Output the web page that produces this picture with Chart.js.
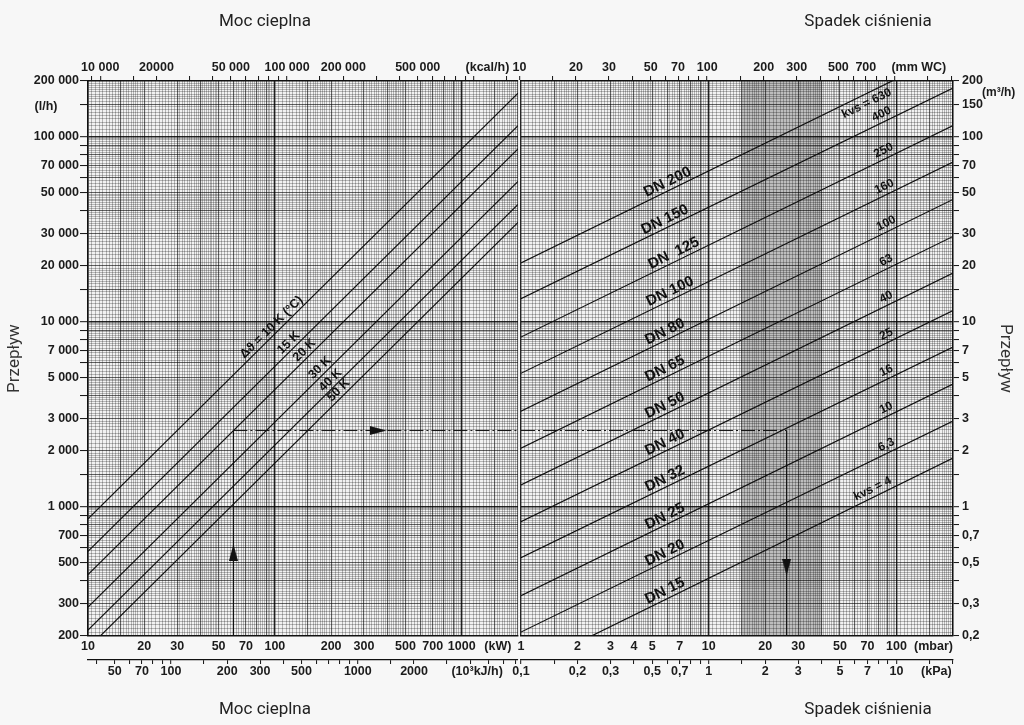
<!DOCTYPE html>
<html lang="pl">
<head>
<meta charset="utf-8">
<title>Nomogram – moc cieplna / spadek ciśnienia</title>
<script src="https://cdn.jsdelivr.net/npm/chart.js@4.4.1/dist/chart.umd.min.js"></script>
<style>
  html, body { margin: 0; padding: 0; background: #f7f7f7; }
  #wrap { position: relative; width: 1024px; height: 725px; overflow: hidden; }
  .panel { position: absolute; top: 0; height: 725px; width: 524px; }
  #left { left: 0; }
  #right { left: 500px; }
</style>
</head>
<body>
<div id="wrap">
  <div class="panel" id="left"><canvas id="heatChart"></canvas></div>
  <div class="panel" id="right"><canvas id="dropChart"></canvas></div>
</div>
<script>
// ---- values ----
const deltaT = [10, 15, 20, 30, 40, 50];                       // K
const deltaTLabels = ['Δϑ = 10 K (°C)', '15 K', '20 K', '30 K', '40 K', '50 K'];
const powerEnds = [10, 2000];                                   // kW
const flowAtLowPower = [860, 573, 430, 287, 215, 172];           // l/h at 10 kW
const flowAtHighPower = [172000, 114700, 86000, 57300, 43000, 34400]; // l/h at 2000 kW

const valveSizes = ['DN 15', 'DN 20', 'DN 25', 'DN 32', 'DN 40', 'DN 50', 'DN 65', 'DN 80', 'DN 100', 'DN  125', 'DN 150', 'DN 200'];
const kvsValues = [4, 6.3, 10, 16, 25, 40, 63, 100, 160, 250, 400, 630];
const kvsLabels = ['kvs = 4', '6,3', '10', '16', '25', '40', '63', '100', '160', '250', '400', 'kvs = 630'];
const dropEnds = [1, 200];                                      // mbar
const flowAtLowDrop = [0.13, 0.21, 0.33, 0.53, 0.83, 1.31, 2.07, 3.28, 5.26, 8.26, 13.3, 20.8];   // m3/h at 1 mbar
const flowAtHighDrop = [1.83, 2.9, 4.6, 7.3, 11.5, 18.3, 28.9, 45.8, 73, 115, 183, 290];       // m3/h at 200 mbar

// worked example drawn with arrows
const examplePower = 60;      // kW
const exampleFlow = 2580;     // l/h
const exampleDrop = 26;       // mbar
const arrowUpFlow = 565;      // l/h
const arrowRightPower = 357;  // kW
const arrowDownFlow = 0.47;   // m3/h

// ---- tick labels ----
const flowTicks = [200, 300, 500, 700, 1000, 2000, 3000, 5000, 7000, 10000, 20000, 30000, 50000, 70000, 100000, 200000];
const flowTickLabels = ['200', '300', '500', '700', '1 000', '2 000', '3 000', '5 000', '7 000', '10 000', '20 000', '30 000', '50 000', '70 000', '100 000', '200 000'];
const flowM3Ticks = [0.2, 0.3, 0.5, 0.7, 1, 2, 3, 5, 7, 10, 20, 30, 50, 70, 100, 150, 200];
const flowM3TickLabels = ['0,2', '0,3', '0,5', '0,7', '1', '2', '3', '5', '7', '10', '20', '30', '50', '70', '100', '150', '200'];
const powerTicks = [10, 20, 30, 50, 70, 100, 200, 300, 500, 700, 1000];
const kcalTicks = [10000, 20000, 50000, 100000, 200000, 500000];
const kcalTickLabels = ['10 000', '20000', '50 000', '100 000', '200 000', '500 000'];
const kjTicks = [50, 70, 100, 200, 300, 500, 1000, 2000];
const mbarTicks = [1, 2, 3, 4, 5, 7, 10, 20, 30, 50, 70, 100];
const kpaTicks = [0.1, 0.2, 0.3, 0.5, 0.7, 1, 2, 3, 5, 7, 10];
const kpaTickLabels = ['0,1', '0,2', '0,3', '0,5', '0,7', '1', '2', '3', '5', '7', '10'];
const mmwcTicks = [10, 20, 30, 50, 70, 100, 200, 300, 500, 700];

// unit conversions of the secondary axes
const KCAL_PER_KW = 860, KJ_PER_KW = 3.6, MMWC_PER_MBAR = 10.197, KPA_PER_MBAR = 0.1;

// where the line captions sit (value along the line)
const deltaTLabelAt = [102, 126, 153, 185, 211, 233];
const valveLabelAt = [6.1, 6.1, 6.1, 6.1, 6.1, 6.1, 6.1, 6.1, 6.5, 6.8, 6.1, 6.3];
const kvsLabelAt = [78, 92, 92, 92, 92, 92, 92, 92, 90, 89, 87, 66];

// graph-paper look: semi transparent so crossings don't break the darker lines
const GRID = {
  decade: { color: 'rgba(0,0,0,0.85)', width: 1.4 },
  main: { color: 'rgba(0,0,0,0.6)', width: 1.1 },
  fine: { color: 'rgba(0,0,0,0.25)', width: 1 }
};
const TICK_FONT = { family: '"Liberation Sans", Arial, sans-serif', size: 12.5, weight: 'bold' };
const TITLE_FONT = { family: 'Roboto, sans-serif', size: 17 };

function fineGrid(min, max) {
  const out = [];
  const bands = [[100, 200, 5], [200, 500, 10], [500, 1000, 20]];
  for (let n = Math.floor(Math.log10(min) + 1e-9); Math.pow(10, n) <= max * 1.0001; n++) {
    bands.forEach(([a, b, s]) => {
      for (let j = a; j < b; j += s) {
        const v = +((j / 100) * Math.pow(10, n)).toPrecision(8);
        if (v >= min * 0.9999 && v <= max * 1.0001) out.push(v);
      }
    });
  }
  return out;
}

function mainMarks(min, max) {
  const out = [];
  const mult = [1, 1.5, 2, 3, 4, 5, 6, 7, 8, 9];
  for (let n = Math.floor(Math.log10(min) + 1e-9); Math.pow(10, n) <= max * 1.0001; n++) {
    mult.forEach(m => {
      const v = +(m * Math.pow(10, n)).toPrecision(8);
      if (v >= min * 0.9999 && v <= max * 1.0001) out.push(v);
    });
  }
  return out;
}

function kind(v) {
  const n = Math.floor(Math.log10(v) + 1e-9);
  const m = Math.round(v / Math.pow(10, n) * 1000) / 1000;
  if (m === 1) return 'decade';
  if (Number.isInteger(m) || m === 1.5) return 'main';
  return 'fine';
}

const same = (a, b) => Math.abs(a / b - 1) < 1e-6;

function logAxis(cfg) {
  const labelValues = cfg.ticks.slice();
  const labelTexts = (cfg.labels || cfg.ticks.map(String)).slice();
  const units = [];
  if (cfg.unitAt) { labelValues.push(cfg.unitAt); labelTexts.push(cfg.unit); units.push(cfg.unitAt); }
  const base = cfg.dense ? fineGrid(cfg.min, cfg.max) : mainMarks(cfg.min, cfg.max);
  const all = [];
  base.concat(labelValues).forEach(v => { if (!all.some(w => same(v, w))) all.push(v); });
  all.sort((a, b) => a - b);

  const isUnit = v => units.some(u => same(u, v));
  const labelOf = v => { const i = labelValues.findIndex(l => same(l, v)); return i < 0 ? '' : labelTexts[i]; };
  const styleOf = v => (isUnit(v) ? null : GRID[kind(v)]);
  const markOf = v => (isUnit(v) || kind(v) === 'fine' ? 'rgba(0,0,0,0)' : '#111');

  const axis = {
    type: 'logarithmic',
    axis: cfg.axis,
    position: cfg.position,
    min: cfg.min,
    max: cfg.max,
    bounds: 'data',
    weight: cfg.weight || 0,
    afterBuildTicks: scale => { scale.ticks = all.map(v => ({ value: v })); },
    afterFit: scale => {
      if (scale.isHorizontal()) { scale.height = cfg.size; scale.paddingLeft = 0; scale.paddingRight = 0; }
      else { scale.width = cfg.size; scale.paddingTop = 0; scale.paddingBottom = 0; }
    },
    border: { display: true, color: '#111', width: cfg.border || 1.5 },
    grid: {
      drawOnChartArea: !!cfg.dense,
      drawTicks: cfg.tickLength > 0,
      tickLength: cfg.tickLength,
      color: c => { const s = c.tick ? styleOf(c.tick.value) : null; return s ? s.color : 'rgba(0,0,0,0)'; },
      lineWidth: c => { const s = c.tick ? styleOf(c.tick.value) : null; return s ? s.width : 0; },
      tickColor: c => (c.tick ? markOf(c.tick.value) : 'rgba(0,0,0,0)'),
      tickWidth: 1
    },
    ticks: {
      autoSkip: false, maxRotation: 0, minRotation: 0,
      padding: cfg.padding, color: '#1b1b1b', font: TICK_FONT,
      callback: v => labelOf(v)
    },
    title: { display: false }
  };
  if (cfg.title) {
    axis.title = { display: true, text: cfg.title, color: '#333', font: TITLE_FONT, padding: { top: cfg.titlePad, bottom: 0 } };
  }
  return axis;
}

// arrow head used as point style
function arrowHead() {
  const c = document.createElement('canvas');
  c.width = 9; c.height = 17;
  const g = c.getContext('2d');
  g.fillStyle = '#111';
  g.beginPath(); g.moveTo(4.5, 0); g.lineTo(9, 17); g.lineTo(0, 17); g.closePath(); g.fill();
  return c;
}
const ARROW = arrowHead();

function lineSet(label, p0, p1, dash) {
  return {
    label: label, data: [p0, p1], showLine: true,
    borderColor: '#111', borderWidth: dash ? 1 : 1.2, borderDash: dash || [],
    pointRadius: 0, pointHoverRadius: 0
  };
}
function arrowSet(p, rotation) {
  return { label: 'arrow', data: [p], pointStyle: ARROW, pointRadius: 5, pointRotation: rotation, showLine: false };
}

// captions along the straight lines
const lineLabels = {
  id: 'lineLabels',
  afterDatasetsDraw(chart, args, opts) {
    const ctx = chart.ctx;
    const xs = chart.scales.x, ys = chart.scales.y;
    ctx.save();
    ctx.fillStyle = '#111';
    ctx.textAlign = 'center';
    ctx.textBaseline = 'middle';
    opts.items.forEach(it => {
      const [p0, p1] = chart.data.datasets[it.dataset].data;
      const slope = Math.log(p1.y / p0.y) / Math.log(p1.x / p0.x);
      const yAt = p0.y * Math.pow(it.at / p0.x, slope);
      const ang = Math.atan2(ys.getPixelForValue(p1.y) - ys.getPixelForValue(p0.y),
                             xs.getPixelForValue(p1.x) - xs.getPixelForValue(p0.x));
      const px = xs.getPixelForValue(it.at) + Math.sin(ang) * it.offset;
      const py = ys.getPixelForValue(yAt) - Math.cos(ang) * it.offset;
      ctx.save();
      ctx.font = it.font;
      ctx.translate(px, py);
      ctx.rotate(ang);
      ctx.fillText(it.text, 0, 0);
      ctx.restore();
    });
    ctx.restore();
  }
};

// paper background, shaded band, panel titles and units
const paper = {
  id: 'paper',
  beforeDraw(chart, args, opts) {
    const { ctx, chartArea: a } = chart;
    ctx.save();
    ctx.fillStyle = opts.fill;
    ctx.fillRect(a.left, a.top, a.width, a.height);
    (opts.bands || []).forEach(b => {
      const x0 = chart.scales.x.getPixelForValue(b.from);
      const x1 = chart.scales.x.getPixelForValue(b.to);
      ctx.fillStyle = b.color;
      ctx.fillRect(x0, a.top, x1 - x0, a.height);
    });
    ctx.restore();
  },
  afterDraw(chart, args, opts) {
    const ctx = chart.ctx;
    ctx.save();
    ctx.textBaseline = 'middle';
    (opts.texts || []).forEach(t => {
      ctx.font = t.font;
      ctx.fillStyle = t.color || '#1b1b1b';
      ctx.textAlign = t.align || 'center';
      ctx.fillText(t.text, t.x, t.y);
    });
    ctx.restore();
  }
};

Chart.defaults.font.family = '"Liberation Sans", Arial, sans-serif';

const TITLE_TEXT_FONT = '17px Roboto, sans-serif';

// ---------- left panel: heat output -> flow ----------
const heatSets = deltaT.map((dt, i) =>
  lineSet(deltaTLabels[i], { x: powerEnds[0], y: flowAtLowPower[i] }, { x: powerEnds[1], y: flowAtHighPower[i] }));
heatSets.push(lineSet('example up', { x: examplePower, y: flowTicks[0] }, { x: examplePower, y: exampleFlow }));
heatSets.push(lineSet('example across', { x: examplePower, y: exampleFlow }, { x: powerEnds[1], y: exampleFlow }, [14, 3, 2, 3]));
heatSets.push(arrowSet({ x: examplePower, y: arrowUpFlow }, 0));
heatSets.push(arrowSet({ x: arrowRightPower, y: exampleFlow }, 90));

new Chart(document.getElementById('heatChart'), {
  type: 'scatter',
  data: { datasets: heatSets },
  plugins: [paper, lineLabels],
  options: {
    responsive: true,
    maintainAspectRatio: false,
    animation: false,
    events: [],
    layout: { padding: { left: 0, right: 3, top: 59, bottom: 43 } },
    scales: {
      x: logAxis({ axis: 'x', position: 'bottom', min: powerEnds[0], max: powerEnds[1], dense: true,
        ticks: powerTicks, unit: '(kW)', unitAt: 1560, tickLength: 0, padding: 3.5, size: 24 }),
      xKj: logAxis({ axis: 'x', position: 'bottom', weight: 1, min: powerEnds[0] * KJ_PER_KW, max: powerEnds[1] * KJ_PER_KW,
        ticks: kjTicks, unit: '(10³kJ/h)', unitAt: 4350, tickLength: 4, padding: 0, size: 22, border: 1.2 }),
      xKcal: logAxis({ axis: 'x', position: 'top', min: powerEnds[0] * KCAL_PER_KW, max: powerEnds[1] * KCAL_PER_KW,
        ticks: kcalTicks, labels: kcalTickLabels, unit: '(kcal/h)', unitAt: 1180000, tickLength: 5, padding: 1, size: 22 }),
      y: logAxis({ axis: 'y', position: 'left', min: flowTicks[0], max: flowTicks[flowTicks.length - 1], dense: true,
        ticks: flowTicks, labels: flowTickLabels, tickLength: 8, padding: 1, size: 88, title: 'Przepływ', titlePad: 4.8 })
    },
    plugins: {
      legend: { display: false },
      tooltip: { enabled: false },
      paper: {
        fill: '#f2f2f2',
        texts: [
          { text: 'Moc cieplna', x: 265, y: 22, font: TITLE_TEXT_FONT, color: '#222' },
          { text: 'Moc cieplna', x: 265, y: 710, font: TITLE_TEXT_FONT, color: '#222' },
          { text: '(l/h)', x: 46, y: 107, font: 'bold 12.5px "Liberation Sans", Arial, sans-serif' }
        ]
      },
      lineLabels: {
        items: deltaTLabels.map((t, i) => ({
          dataset: i, at: deltaTLabelAt[i], offset: 7, text: t,
          font: 'bold 12.5px "Liberation Sans", Arial, sans-serif'
        }))
      }
    }
  }
});

// ---------- right panel: flow -> pressure drop ----------
const m3 = v => v / 1000;
const dropSets = kvsValues.map((k, i) =>
  lineSet(valveSizes[i], { x: dropEnds[0], y: flowAtLowDrop[i] }, { x: dropEnds[1], y: flowAtHighDrop[i] }));
dropSets.push(lineSet('example across', { x: dropEnds[0], y: m3(exampleFlow) }, { x: exampleDrop, y: m3(exampleFlow) }, [14, 3, 2, 3]));
dropSets.push(lineSet('example down', { x: exampleDrop, y: m3(exampleFlow) }, { x: exampleDrop, y: flowM3Ticks[0] }));
dropSets.push(arrowSet({ x: exampleDrop, y: arrowDownFlow }, 180));

const valveItems = valveSizes.map((t, i) => ({
  dataset: i, at: valveLabelAt[i], offset: 8, text: t,
  font: 'bold 15px "Liberation Sans", Arial, sans-serif'
}));
const kvsItems = kvsLabels.map((t, i) => ({
  dataset: i, at: kvsLabelAt[i], offset: i === kvsLabels.length - 1 ? -9 : 8, text: t,
  font: 'bold 12px "Liberation Sans", Arial, sans-serif'
}));

new Chart(document.getElementById('dropChart'), {
  type: 'scatter',
  data: { datasets: dropSets },
  plugins: [paper, lineLabels],
  options: {
    responsive: true,
    maintainAspectRatio: false,
    animation: false,
    events: [],
    layout: { padding: { left: 21, right: 0, top: 59, bottom: 43 } },
    scales: {
      x: logAxis({ axis: 'x', position: 'bottom', min: dropEnds[0], max: dropEnds[1], dense: true,
        ticks: mbarTicks, unit: '(mbar)', unitAt: 157.5, tickLength: 0, padding: 3.5, size: 24 }),
      xKpa: logAxis({ axis: 'x', position: 'bottom', weight: 1, min: dropEnds[0] * KPA_PER_MBAR, max: dropEnds[1] * KPA_PER_MBAR,
        ticks: kpaTicks, labels: kpaTickLabels, unit: '(kPa)', unitAt: 16.3, tickLength: 4, padding: 0, size: 22, border: 1.2 }),
      xMm: logAxis({ axis: 'x', position: 'top', min: dropEnds[0] * MMWC_PER_MBAR, max: dropEnds[1] * MMWC_PER_MBAR,
        ticks: mmwcTicks, unit: '(mm WC)', unitAt: 1341, tickLength: 5, padding: 1, size: 22 }),
      y: logAxis({ axis: 'y', position: 'right', min: flowM3Ticks[0], max: flowM3Ticks[flowM3Ticks.length - 1], dense: true,
        ticks: flowM3Ticks, labels: flowM3TickLabels, tickLength: 6, padding: 3, size: 71, title: 'Przepływ', titlePad: 8.8 })
    },
    plugins: {
      legend: { display: false },
      tooltip: { enabled: false },
      paper: {
        fill: '#f2f2f2',
        bands: [{ from: 15, to: 40, color: 'rgba(0,0,0,0.22)' }],
        texts: [
          { text: 'Spadek ciśnienia', x: 368, y: 22, font: TITLE_TEXT_FONT, color: '#222' },
          { text: 'Spadek ciśnienia', x: 368, y: 710, font: TITLE_TEXT_FONT, color: '#222' },
          { text: '(m³/h)', x: 482, y: 93, align: 'left', font: 'bold 12px "Liberation Sans", Arial, sans-serif' }
        ]
      },
      lineLabels: { items: valveItems.concat(kvsItems) }
    }
  }
});
</script>
</body>
</html>
